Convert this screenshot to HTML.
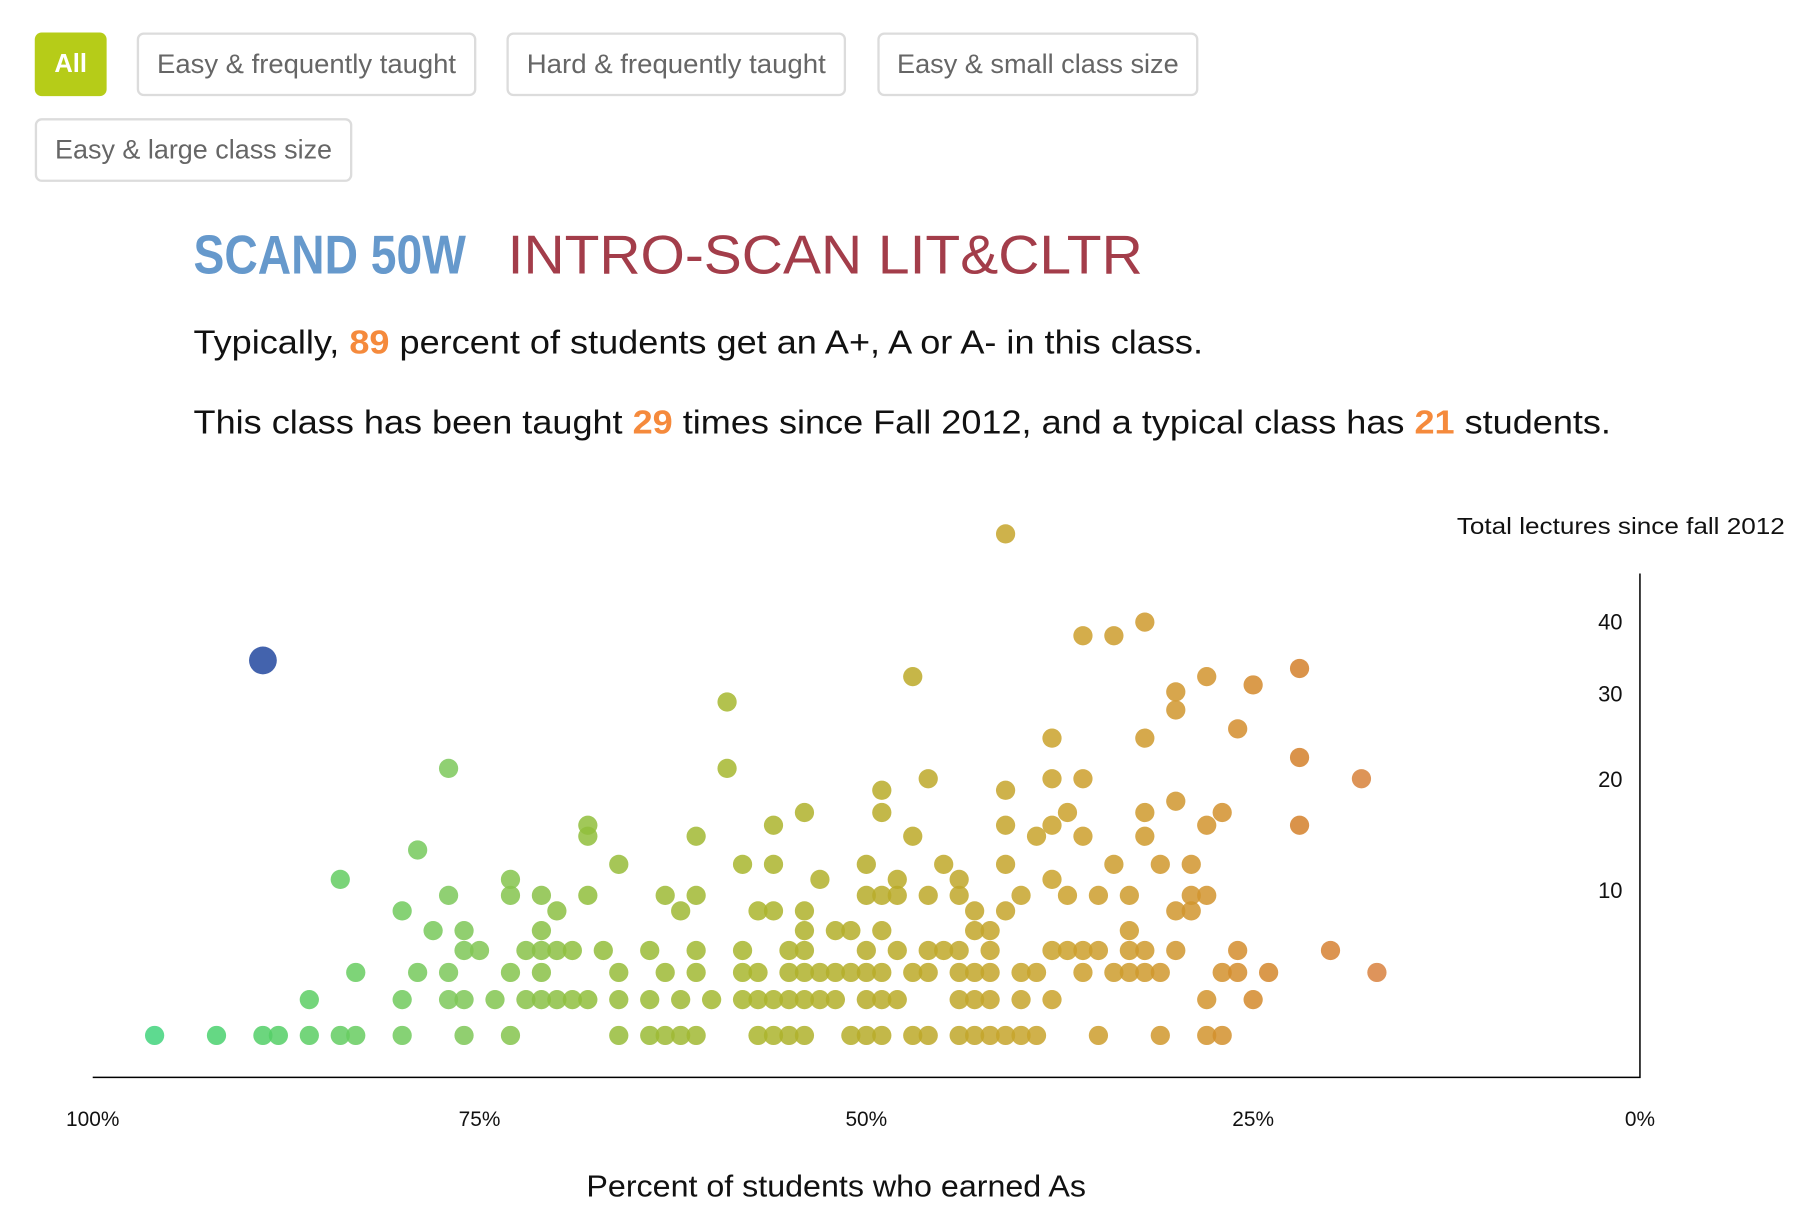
<!DOCTYPE html>
<html><head><meta charset="utf-8"><style>
html,body{margin:0;padding:0;background:#fff;}
svg{display:block;font-family:"Liberation Sans",sans-serif;}
</style></head><body>
<svg id="chart" width="1808" height="1228" viewBox="0 0 1560 1060" preserveAspectRatio="none" xmlns="http://www.w3.org/2000/svg">
<g>
  <g><rect x="30" y="28" width="62" height="55" rx="6" fill="#b6cc18"/><text x="61" y="62" text-anchor="middle" font-size="22" font-weight="bold" fill="#fff">All</text></g>
  <g><rect x="119" y="29" width="291" height="53" rx="5" fill="#fff" stroke="#dcdcdc" stroke-width="2"/><text x="264.5" y="63" text-anchor="middle" font-size="23" fill="#666" textLength="258" lengthAdjust="spacingAndGlyphs">Easy &amp; frequently taught</text></g>
  <g><rect x="438" y="29" width="291" height="53" rx="5" fill="#fff" stroke="#dcdcdc" stroke-width="2"/><text x="583.5" y="63" text-anchor="middle" font-size="23" fill="#666" textLength="258" lengthAdjust="spacingAndGlyphs">Hard &amp; frequently taught</text></g>
  <g><rect x="758" y="29" width="275" height="53" rx="5" fill="#fff" stroke="#dcdcdc" stroke-width="2"/><text x="895.5" y="63" text-anchor="middle" font-size="23" fill="#666" textLength="243" lengthAdjust="spacingAndGlyphs">Easy &amp; small class size</text></g>
  <g><rect x="31" y="103" width="272" height="53" rx="5" fill="#fff" stroke="#dcdcdc" stroke-width="2"/><text x="167" y="137" text-anchor="middle" font-size="23" fill="#666" textLength="239" lengthAdjust="spacingAndGlyphs">Easy &amp; large class size</text></g>
</g>
<text x="167" y="236" font-family="'Liberation Sans Narrow','Liberation Sans',sans-serif" font-weight="bold" font-size="47" fill="#6699cc" textLength="235" lengthAdjust="spacingAndGlyphs">SCAND 50W</text>
<text x="438" y="236" font-size="47" fill="#a33d4a" textLength="548" lengthAdjust="spacingAndGlyphs">INTRO-SCAN LIT&amp;CLTR</text>
<text x="167" y="305" font-size="29" fill="#111" textLength="871" lengthAdjust="spacingAndGlyphs">Typically, <tspan fill="#f58a3c" font-weight="bold">89</tspan> percent of students get an A+, A or A- in this class.</text>
<text x="167" y="374" font-size="29" fill="#111" textLength="1223" lengthAdjust="spacingAndGlyphs">This class has been taught <tspan fill="#f58a3c" font-weight="bold">29</tspan> times since Fall 2012, and a typical class has <tspan fill="#f58a3c" font-weight="bold">21</tspan> students.</text>
<g id="plot"></g>
</svg>
<script>
const xTicks = [100, 75, 50, 25, 0];
const xTickLabels = ["100%", "75%", "50%", "25%", "0%"];
const yTicks = [10, 20, 30, 40];
const rowLectures = [2.1, 3.5, 4.8, 6.0, 7.2, 8.5, 9.6, 10.8, 12.0, 13.2, 14.4, 15.4, 16.6, 17.7, 18.8, 20.0, 21.1, 22.3, 24.5, 25.6, 27.9, 28.9, 30.2, 31.1, 32.2, 33.3, 37.9, 39.9, 54.1];
const rowPcts = [
 [96,92,89,88,86,84,83,80,76,73,66,64,63,62,61,57,56,55,54,51,50,49,47,46,44,43,42,41,40,39,35,31,28,27],
 [86,80,77,76,74,72,71,70,69,68,66,64,62,60,58,57,56,55,54,53,52,50,49,48,44,43,42,40,38,28,25],
 [83,79,77,73,71,66,63,61,58,57,55,54,53,52,51,50,49,47,46,44,43,42,40,39,36,34,33,32,31,27,26,24,17],
 [76,75,72,71,70,69,67,64,61,58,55,54,50,48,46,45,44,42,38,37,36,35,33,32,30,26,20],
 [78,76,71,54,52,51,49,43,42,33],
 [80,70,62,57,56,54,43,41,30,29],
 [77,73,71,68,63,61,50,49,48,46,44,40,37,35,33,29,28],
 [84,73,53,48,44,38],
 [66,58,56,50,45,41,34,31,29],
 [79],
 [68,61,47,39,36,32],
 [68,56,41,38,28,22],
 [54,49,37,32,27],
 [30],
 [49,41],
 [46,38,36,18],
 [77,59],
 [22],
 [38,32],
 [26],
 [30],
 [59],
 [30],
 [25],
 [47,28],
 [22],
 [36,34],
 [32],
 [41]
];
const highlightPct = 89;
const highlightLectures = 34.4;

const NS = "http://www.w3.org/2000/svg";
const plot = document.getElementById("plot");
const X0 = 80, X1 = 1415, YB = 930, YT = 495;
function xScale(p){ return X0 + (100 - p) * (X1 - X0) / 100; }
function yScale(v){ return 1000 - 73.3 * Math.sqrt(v); }
const stops = [[100,[58,214,138]],[90,[78,208,104]],[77,[124,200,90]],[68,[145,190,60]],[58,[168,182,46]],[48,[186,170,40]],[38,[202,162,44]],[28,[210,148,46]],[22,[212,128,42]],[15,[218,130,70]]];
function color(p){
  for(let i=0;i<stops.length-1;i++){
    const a=stops[i], b=stops[i+1];
    if(p<=a[0] && p>=b[0]){
      const t=(a[0]-p)/(a[0]-b[0]);
      const c=a[1].map((v,k)=>Math.round(v+(b[1][k]-v)*t));
      return "rgb("+c.join(",")+")";
    }
  }
  return "rgb(218,130,70)";
}
function mk(tag, attrs){ const e=document.createElementNS(NS,tag); for(const k in attrs) e.setAttribute(k,attrs[k]); plot.appendChild(e); return e; }

let ax = mk("path",{d:`M${X0},${YB}H${X1}V${YT}`,fill:"none",stroke:"#000","stroke-width":1.3});



xTicks.forEach((t,i)=>{
  const e=mk("text",{x:xScale(t),y:972,"text-anchor":"middle","font-size":18,fill:"#111"});
  e.textContent=xTickLabels[i];
  
  
});
yTicks.forEach(t=>{
  const e=mk("text",{x:1400,y:yScale(t)+7,"text-anchor":"end","font-size":19,fill:"#111"});
  e.textContent=String(t);
  
  
});
let xt=mk("text",{x:506,y:1033,"font-size":26,fill:"#111",textLength:431,lengthAdjust:"spacingAndGlyphs"});
xt.textContent="Percent of students who earned As";


let yt=mk("text",{x:1257,y:461,"font-size":20,fill:"#111",textLength:283,lengthAdjust:"spacingAndGlyphs"});
yt.textContent="Total lectures since fall 2012";



rowLectures.forEach((v,r)=>{
  rowPcts[r].forEach(p=>{
    const c=mk("circle",{cx:xScale(p),cy:yScale(v),r:8.3,fill:color(p),"fill-opacity":0.85});
    
    
  });
});
const hl=mk("circle",{cx:xScale(highlightPct),cy:yScale(highlightLectures),r:12,fill:"#4363ad"});


</script>
</body></html>
